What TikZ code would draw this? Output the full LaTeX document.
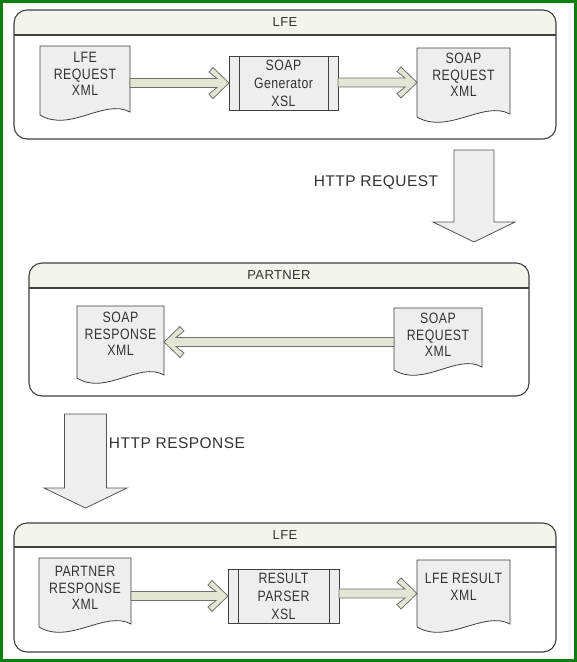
\documentclass[tikz,border=0pt]{standalone}
\usepackage{fontspec}
\setmainfont{Liberation Sans}
\newfontfamily\docfont[LetterSpace=3,FakeStretch=0.82]{Liberation Sans}
\newfontfamily\lblfont[LetterSpace=3]{Liberation Sans}
\usetikzlibrary{calc}
\definecolor{frame}{RGB}{16,125,16}
\definecolor{edge}{RGB}{64,64,64}
\definecolor{shapefill}{RGB}{238,238,238}
\definecolor{arrfill}{RGB}{228,230,212}
\definecolor{arredge}{RGB}{110,110,110}
\definecolor{titlefill}{RGB}{244,244,238}
\tikzset{
  container/.style={draw=edge, line width=1.1pt, rounded corners=13pt},
  region/.style={inner sep=0pt, outer sep=0pt, draw=none},
  doctext/.style={font=\docfont\fontsize{15}{16.5}\selectfont, align=center, inner sep=0pt, text=black!80},
  titletext/.style={font=\lblfont\fontsize{13}{15}\selectfont, inner sep=0pt, text=black!80},
  lbl/.style={font=\lblfont\fontsize{15.5}{18}\selectfont, inner sep=0pt, text=black!80},
  docshape/.style={draw=edge, fill=shapefill, line width=0.8pt},
  procbox/.style={draw=edge, fill=shapefill, line width=0.8pt, inner sep=0pt, outer sep=0pt,
    font=\docfont\fontsize{15}{18}\selectfont, align=center, text=black!80},
  fancyarr/.style={draw=arredge, fill=arrfill, line width=0.8pt, line join=miter},
  blockarr/.style={draw=edge!90, fill=shapefill, line width=0.8pt, line join=miter},
}
\newcommand\docoutline[1]{%
  \draw[docshape] (#1.north west) -- (#1.north east) -- ($(#1.south east)+(0,-3)$)
    .. controls ($(#1.south east)!0.28!(#1.south west)+(0,-17)$) and ($(#1.south west)!0.33!(#1.south east)+(0,18)$) .. (#1.south west) -- cycle;}
\newcommand\procinner[1]{%
  \draw[edge, line width=0.8pt] ($(#1.north west)+(10,0)$) -- ($(#1.south west)+(10,0)$);
  \draw[edge, line width=0.8pt] ($(#1.north east)+(-10,0)$) -- ($(#1.south east)+(-10,0)$);}
\newcommand\fatarrow[3]{%
  \draw[fancyarr] let \p1=(#1), \p2=(#2) in
   ({\x1},{\y2+4.5pt}) -- ({\x2-(#3)*12pt},{\y2+4.5pt}) -- ({\x2-(#3)*20pt},{\y2+11pt}) -- ({\x2-(#3)*16pt},{\y2+15.5pt})
   -- ({\x2},{\y2}) -- ({\x2-(#3)*16pt},{\y2-15.5pt}) -- ({\x2-(#3)*20pt},{\y2-11pt}) -- ({\x2-(#3)*12pt},{\y2-4.5pt})
   -- ({\x1},{\y2-4.5pt}) -- cycle;}
\newcommand\containerbox[2]{%
  \begin{scope}
    \clip[rounded corners=13pt] (#1.south west) rectangle (#1.north east);
    \fill[white] (#1.south west) rectangle (#1.north east);
    \fill[titlefill] (#1.north west) rectangle ($(#1.north east)+(0,#2)$);
  \end{scope}
  \draw[edge, line width=1.1pt] ($(#1.north west)+(0,#2)$) -- ($(#1.north east)+(0,#2)$);
  \draw[container] (#1.south west) rectangle (#1.north east);}
\newcommand\blockdown[2]{%
  \draw[blockarr] ($(#1.north)+(-#2,0)$) -- ($(#1.north)+(#2,0)$) -- ($(#1.south)+(#2,-20)$)
    -- ($(#1.south east)+(0,-20)$) -- (#1.south) -- ($(#1.south west)+(0,-20)$)
    -- ($(#1.south)+(-#2,-20)$) -- cycle;}
\begin{document}
\begin{tikzpicture}[x=1pt, y=-1pt]
\useasboundingbox (0,0) rectangle (577,662);
\fill[white] (0,0) rectangle (577,662);
\draw[frame, line width=3pt] (1.5,1.5) rectangle (575.5,660.5);

% ---------- containers ----------
\node[region, minimum width=542pt, minimum height=129pt] (c1) at (285,74.5) {};
\containerbox{c1}{25}
\node[titletext] (c1t) at ($(c1.north)+(0,12.5)$) {LFE};

\node[region, minimum width=500pt, minimum height=133pt] (c2) at (279,329.5) {};
\containerbox{c2}{25}
\node[titletext] (c2t) at ($(c2.north)+(0,12.5)$) {PARTNER};

\node[region, minimum width=542pt, minimum height=129pt] (c3) at (285,587.5) {};
\containerbox{c3}{24}
\node[titletext] (c3t) at ($(c3.north)+(0,12)$) {LFE};

% ---------- top row ----------
\node[region, minimum width=90pt, minimum height=69pt] (d1) at (85,80.5) {};
\docoutline{d1}
\node[doctext] (d1t) at (85,74) {LFE\\REQUEST\\XML};

\node[procbox, minimum width=109pt, minimum height=54pt] (g1) at (283.5,83) {SOAP\\Generator\\XSL};
\procinner{g1}

\node[region, minimum width=93pt, minimum height=69pt] (d2) at (463.5,82.5) {};
\docoutline{d2}
\node[doctext] (d2t) at (463.5,75) {SOAP\\REQUEST\\XML};

\fatarrow{d1.east}{g1.west}{1}
\fatarrow{g1.east}{d2.west}{1}

% ---------- HTTP request ----------
\node[region, minimum width=82pt, minimum height=92pt] (req) at (474,196) {};
\blockdown{req}{20}
\node[lbl] (reqlbl) at (376,183) {HTTP REQUEST};

% ---------- partner row ----------
\node[region, minimum width=87pt, minimum height=72pt] (p1) at (120.5,342) {};
\docoutline{p1}
\node[doctext] (p1t) at (120.5,334) {SOAP\\RESPONSE\\XML};

\node[region, minimum width=88pt, minimum height=62pt] (p2) at (438,339) {};
\docoutline{p2}
\node[doctext] (p2t) at (438,335) {SOAP\\REQUEST\\XML};

\fatarrow{p2.west}{p1.east}{-1}

% ---------- HTTP response ----------
\node[region, minimum width=83pt, minimum height=94pt] (resp) at (85.5,461) {};
\blockdown{resp}{21}
\node[lbl] (resplbl) at (177,443) {HTTP RESPONSE};

% ---------- bottom row ----------
\node[region, minimum width=92pt, minimum height=69pt] (e1) at (85,592.5) {};
\docoutline{e1}
\node[doctext] (e1t) at (85,588) {PARTNER\\RESPONSE\\XML};

\node[procbox, minimum width=111pt, minimum height=54pt] (g2) at (283.5,596) {RESULT\\PARSER\\XSL};
\procinner{g2}

\node[region, minimum width=93pt, minimum height=67pt] (e3) at (463.5,593.5) {};
\docoutline{e3}
\node[doctext] (e3t) at (463.5,587) {LFE RESULT\\XML};

\fatarrow{e1.east}{g2.west}{1}
\fatarrow{g2.east}{e3.west}{1}
\end{tikzpicture}
\end{document}
